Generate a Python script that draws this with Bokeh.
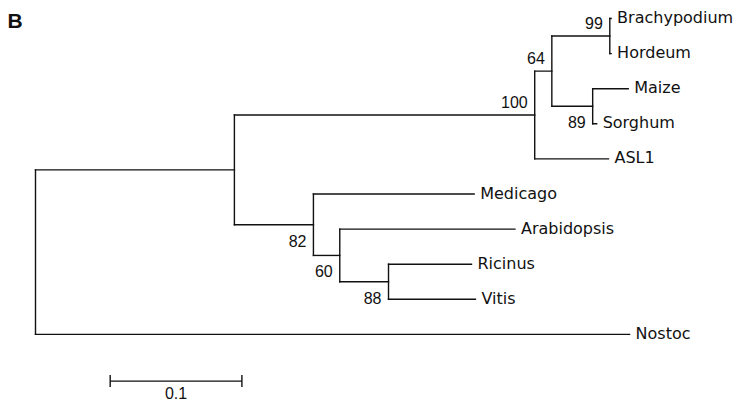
from bokeh.plotting import figure
from bokeh.models import Range1d, ColumnDataSource, Label
from bokeh.core.properties import value
from bokeh.embed import file_html
from bokeh.resources import INLINE

# ---- data ----
taxa = ["Brachypodium", "Hordeum", "Maize", "Sorghum", "ASL1",
        "Medicago", "Arabidopsis", "Ricinus", "Vitis", "Nostoc"]
edge_parent = ["root", "root", "plants", "n100", "n100", "n64", "n99", "n99",
               "n64", "n89", "n89", "plants", "n82", "n82", "n60", "n60", "n88", "n88"]
edge_child = ["plants", "Nostoc", "n100", "n64", "ASL1", "n99", "Brachypodium", "Hordeum",
              "n89", "Maize", "Sorghum", "n82", "Medicago", "n60", "Arabidopsis", "n88",
              "Ricinus", "Vitis"]
edge_length = [0.151, 0.451, 0.228, 0.013, 0.056, 0.044, 0.001, 0.001,
               0.031, 0.027, 0.003, 0.060, 0.122, 0.020, 0.133, 0.037, 0.063, 0.066]
support_nodes = ["n100", "n64", "n99", "n89", "n82", "n60", "n88"]
support_values = [100, 64, 99, 89, 82, 60, 88]
support_side = ["above", "above", "above", "below", "below", "below", "below"]
scale_bar_length = 0.1
scale_bar_label = "0.1"
panel_label = "B"

# ---- layout of the tree ----
children = {}
for par, ch, ln in zip(edge_parent, edge_child, edge_length):
    children.setdefault(par, []).append((ch, ln))

xpos = {"root": 0.0}
ypos = {}


def walk(node):
    if node in taxa:
        ypos[node] = float(taxa.index(node))
        return ypos[node]
    ys = []
    for ch, ln in children[node]:
        xpos[ch] = xpos[node] + ln
        ys.append(walk(ch))
    ypos[node] = (min(ys) + max(ys)) / 2.0
    return ypos[node]


walk("root")

hx0, hx1, hy = [], [], []
for par, ch in zip(edge_parent, edge_child):
    hx0.append(xpos[par])
    hx1.append(xpos[ch])
    hy.append(ypos[ch])

vx, vy0, vy1 = [], [], []
for node, chs in children.items():
    ys = [ypos[c] for c, _ in chs]
    vx.append(xpos[node])
    vy0.append(min(ys))
    vy1.append(max(ys))

W, H = 734, 403
PX_X = 1317.2   # pixels per branch-length unit
PX_Y = 35.1     # pixels per leaf row
X0, Y0 = 35.0, 18.0
p = figure(width=W, height=H, output_backend="svg", toolbar_location=None,
           x_range=Range1d(-X0 / PX_X, (W - X0) / PX_X),
           y_range=Range1d((H - Y0) / PX_Y, -Y0 / PX_Y),
           min_border=0)
p.axis.visible = False
p.grid.visible = False
p.outline_line_color = None
p.background_fill_color = "white"
p.border_fill_color = "white"

line_color = "#111111"
lw = 1.4
p.segment(x0=hx0, y0=hy, x1=hx1, y1=hy, line_color=line_color, line_width=lw, line_cap="square")
p.segment(x0=vx, y0=vy0, x1=vx, y1=vy1, line_color=line_color, line_width=lw, line_cap="square")

# leaf labels
leaf_src = ColumnDataSource(dict(x=[xpos[t] for t in taxa], y=[ypos[t] for t in taxa], text=taxa))
p.text(x="x", y="y", text="text", source=leaf_src, x_offset=6, y_offset=-1,
       text_font=value("DejaVu Sans"), text_font_size="16px", text_color="#111111",
       text_align="left", text_baseline="middle")

# support values
sx, sy, syo, st = [], [], [], []
for n, v, side in zip(support_nodes, support_values, support_side):
    sx.append(xpos[n])
    sy.append(ypos[n])
    syo.append(-13.5 if side == "above" else 16.0)
    st.append(str(v))
sup_src = ColumnDataSource(dict(x=sx, y=sy, yo=syo, text=st))
p.text(x="x", y="y", text="text", source=sup_src, x_offset=-7, y_offset="yo",
       text_font=value("Liberation Sans"), text_font_size="16px", text_color="#111111",
       text_align="right", text_baseline="middle")

# scale bar
sb_x0 = 0.0567
sb_y = 10.33
p.segment(x0=[sb_x0], y0=[sb_y], x1=[sb_x0 + scale_bar_length], y1=[sb_y],
          line_color=line_color, line_width=lw)
p.segment(x0=[sb_x0, sb_x0 + scale_bar_length], y0=[sb_y - 0.17, sb_y - 0.17],
          x1=[sb_x0, sb_x0 + scale_bar_length], y1=[sb_y + 0.17, sb_y + 0.17],
          line_color=line_color, line_width=lw)
p.text(x=[sb_x0 + scale_bar_length / 2], y=[sb_y], text=[scale_bar_label], y_offset=12,
       text_font=value("Liberation Sans"), text_font_size="16px", text_color="#111111",
       text_align="center", text_baseline="middle")

# panel label
p.add_layout(Label(x=7, y=H - 19.5, x_units="screen", y_units="screen", text=panel_label,
                   text_font="Liberation Sans", text_font_size="21px", text_font_style="bold",
                   text_color="#111111", text_baseline="middle"))

open("out.html", "w").write(file_html(p, INLINE))
